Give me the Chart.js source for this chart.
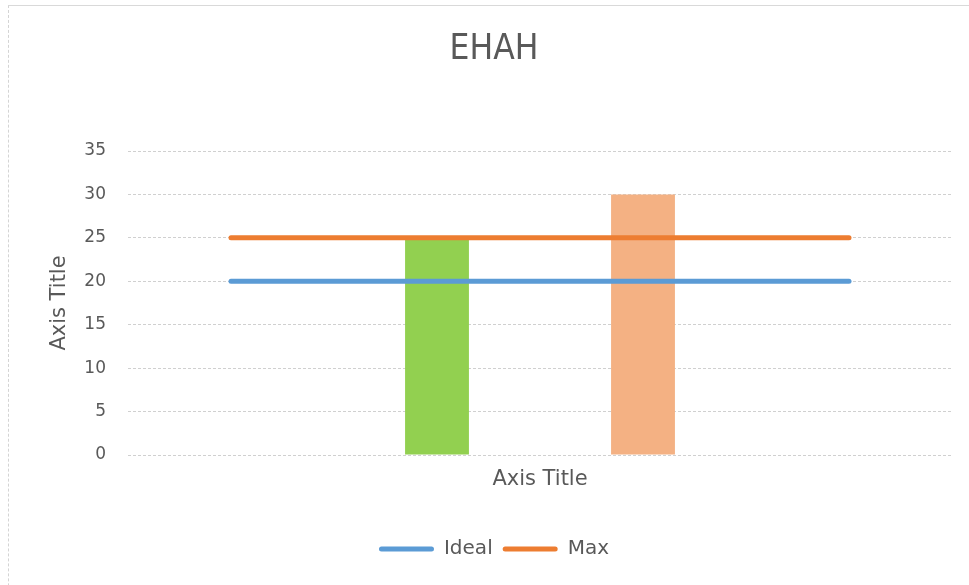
<!DOCTYPE html>
<html>
<head>
<meta charset="utf-8">
<script src="https://cdn.jsdelivr.net/npm/chart.js@4"></script>
<style>
  html, body { margin: 0; padding: 0; background: #fff; }
  #wrap { position: relative; width: 969px; height: 585px; overflow: hidden; }
  #frame {
    position: absolute; left: 8px; top: 5px; width: 1000px; height: 700px;
    border-left: 1px dashed #d4d4d4; border-top: 1px solid #d9d9d9;
  }
  #chart { position: absolute; left: 0; top: 0; }
</style>
</head>
<body>
<div id="wrap">
  <div id="frame"></div>
  <canvas id="chart" width="969" height="585"></canvas>
</div>
<script>
const categories = ['1', '2', '3', '4'];
const idealValues = [20, 20, 20, 20];
const maxValues = [25, 25, 25, 25];
const greenValues = [null, 25, null, null];
const peachValues = [null, null, 30, null];
const yTicks = [0, 5, 10, 15, 20, 25, 30, 35];

Chart.defaults.font.family = "'DejaVu Sans', sans-serif";
Chart.defaults.color = '#595959';

const ctx = document.getElementById('chart').getContext('2d');
new Chart(ctx, {
    type: 'bar',
    data: {
        labels: categories,
        datasets: [
            {
                type: 'line',
                label: 'Ideal',
                data: idealValues,
                borderColor: '#5B9BD5',
                backgroundColor: '#5B9BD5',
                borderWidth: 5,
                borderCapStyle: 'round',
                pointRadius: 0,
                fill: false,
            },
            {
                type: 'line',
                label: 'Max',
                data: maxValues,
                borderColor: '#ED7D31',
                backgroundColor: '#ED7D31',
                borderWidth: 5,
                borderCapStyle: 'round',
                pointRadius: 0,
                fill: false,
            },
            {
                label: 'Green',
                data: greenValues,
                backgroundColor: '#92D050',
                grouped: false,
            },
            {
                label: 'Peach',
                data: peachValues,
                backgroundColor: '#F4B183',
                grouped: false,
            }
        ]
    },
    options: {
        responsive: false,
        animation: false,
        datasets: {
            bar: { barPercentage: 0.31, categoryPercentage: 1 }
        },
        layout: { padding: { left: 36, right: 17, top: 0, bottom: 16 } },
        plugins: {
            title: {
                display: true,
                text: 'EHAH',
                color: '#595959',
                font: { family: "'Liberation Sans Narrow', 'DejaVu Sans Condensed', sans-serif", size: 35, weight: 'normal', lineHeight: 1.2 },
                padding: { top: 29, bottom: 80 },
            },
            legend: {
                display: true,
                position: 'bottom',
                labels: {
                    boxWidth: 55,
                    boxHeight: 5,
                    padding: 10,
                    useBorderRadius: true,
                    borderRadius: 2.5,
                    font: { size: 20 },
                    color: '#595959',
                    filter: (item, data) => data.datasets[item.datasetIndex].type === 'line',
                    generateLabels: chart => Chart.defaults.plugins.legend.labels.generateLabels(chart)
                        .map(l => Object.assign(l, { lineWidth: 0 })),
                }
            },
            tooltip: { enabled: false }
        },
        scales: {
            x: {
                grid: { display: false, drawTicks: false },
                border: { display: false },
                ticks: { display: false },
                title: {
                    display: true,
                    text: 'Axis Title',
                    color: '#595959',
                    font: { size: 21, lineHeight: 1.2 },
                    padding: { top: 12.4, bottom: 36.4 },
                }
            },
            y: {
                min: 0,
                max: 35,
                afterFit: scale => { scale.width = 92; },
                afterBuildTicks: scale => { scale.ticks = yTicks.map(v => ({ value: v })); },
                grid: { color: '#d0d0d0', lineWidth: 1, drawTicks: false },
                border: { display: false, dash: [3, 2] },
                ticks: { padding: 22, color: '#595959', font: { size: 17 } },
                title: {
                    display: true,
                    text: 'Axis Title',
                    color: '#595959',
                    font: { size: 21, lineHeight: 1.2 },
                    padding: { top: 11.4, bottom: 0 },
                }
            }
        }
    }
});
</script>
</body>
</html>
